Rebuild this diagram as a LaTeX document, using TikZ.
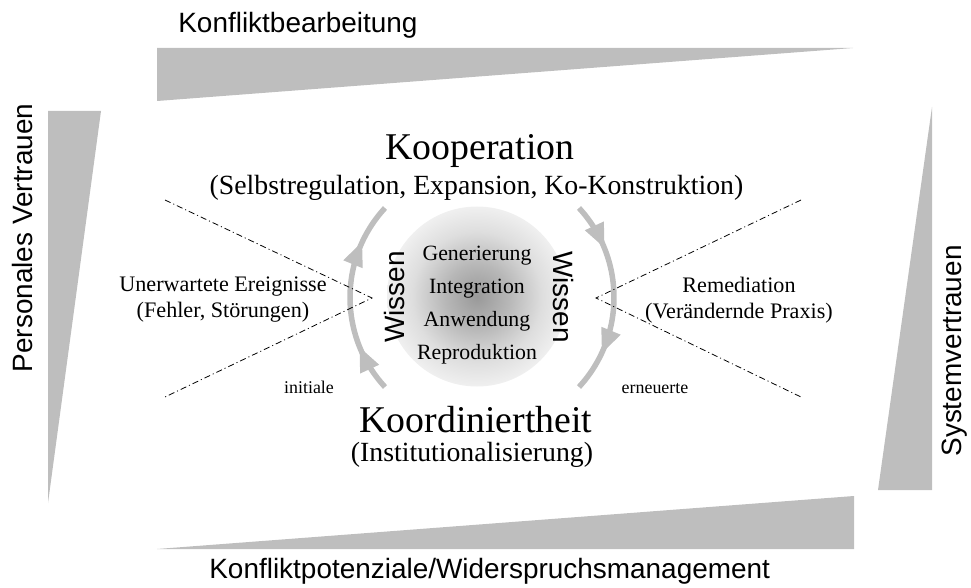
\documentclass[tikz,border=0pt]{standalone}
\usepackage{fontspec}
\setmainfont{Liberation Serif}
\newfontfamily\labelfont{Liberation Sans}
\usetikzlibrary{decorations.markings}
\definecolor{wedgegray}{RGB}{190,190,190}
\pgfdeclareradialshading{coreglow}{\pgfpoint{0bp}{0bp}}{color(0bp)=(black!40); color(9bp)=(black!28); color(18bp)=(black!13); color(25bp)=(black!6); color(50bp)=(black!6)}

\newcommand{\cyclehead}{\fill[wedgegray] (0.12,0) -- (-0.36,0.21) -- (-0.36,-0.21) -- cycle;}

\tikzset{
  wedge/.style={fill=wedgegray},
  framelabel/.style={font=\labelfont\fontsize{15.9}{19}\selectfont, inner sep=0pt},
  mainlabel/.style={font=\fontsize{21.5}{26}\selectfont, inner sep=0pt},
  sublabel/.style={font=\fontsize{15.8}{19}\selectfont, inner sep=0pt},
  sidetext/.style={font=\fontsize{12.6}{14.8}\selectfont, align=center, inner sep=0pt},
  knowtext/.style={font=\fontsize{12.4}{18.8}\selectfont, align=center, inner sep=0pt},
  smalltext/.style={font=\fontsize{10.2}{12}\selectfont, inner sep=0pt},
  ray/.style={dash pattern=on 3.5pt off 1.7pt on 0.6pt off 1.7pt, line width=0.45pt},
  cyclearc/.style={draw=wedgegray, line width=0.11cm, postaction={decorate},
    decoration={markings,
      mark=at position 0.21 with {\cyclehead},
      mark=at position 0.76 with {\cyclehead}}}
}

\begin{document}
\begin{tikzpicture}
      \useasboundingbox (0,0) rectangle (19.42,11.74);

      \fill[wedge] (3.14,10.78) -- (17.06,10.78) -- (3.14,9.72) -- cycle;
      \fill[wedge] (3.14,0.76) -- (17.08,0.76) -- (17.08,1.82) -- cycle;
      \fill[wedge] (0.96,9.52) -- (2.02,9.52) -- (0.96,1.68) -- cycle;
      \fill[wedge] (18.64,9.6) -- (18.64,1.94) -- (17.56,1.94) -- cycle;

      \node[framelabel, anchor=base west] (conflict) at (3.56,11.08) {Konfliktbearbeitung};
      \node[framelabel, anchor=base west] (potential) at (4.18,0.18) {Konfliktpotenziale/Widerspruchsmanagement};
      \node[framelabel, rotate=90] (personal) at (0.46,6.98) {Personales Vertrauen};
      \node[framelabel, rotate=90] (system) at (19.1,4.72) {Systemvertrauen};

      \node[circle, minimum size=3.6cm, shading=coreglow] (core) at (9.54,5.81) {};
      \node[knowtext] (knowledge) at (9.54,5.64) {Generierung\\Integration\\Anwendung\\Reproduktion};

      \coordinate (hub) at (9.64,5.79);
      \draw[cyclearc] ([shift={(222.7:2.64)}]hub) arc[start angle=222.7, end angle=137.3, radius=2.64];
      \draw[cyclearc] ([shift={(42.7:2.64)}]hub) arc[start angle=42.7, end angle=-42.7, radius=2.64];

      \node[framelabel, rotate=90] (wissenleft) at (7.9,5.8) {Wissen};
      \node[framelabel, rotate=-90] (wissenright) at (11.26,5.8) {Wissen};

      \node[mainlabel, anchor=base] (coop) at (9.6,8.54) {Kooperation};
      \node[sublabel, anchor=base] (coopsub) at (9.53,7.84) {(Selbstregulation, Expansion, Ko-Konstruktion)};
      \node[mainlabel, anchor=base] (coord) at (9.52,3.1) {Koordiniertheit};
      \node[sublabel, anchor=base] (coordsub) at (9.44,2.52) {(Institutionalisierung)};

      \node[smalltext, anchor=base] (initial) at (6.18,3.88) {initiale};
      \node[smalltext, anchor=base] (renewed) at (13.1,3.88) {erneuerte};

      \coordinate (lefttip) at (7.44,5.78);
      \coordinate (righttip) at (11.92,5.78);
      \draw[ray] (3.3,7.74) -- (lefttip) -- (3.3,3.8);
      \draw[ray] (16.02,7.74) -- (righttip) -- (16.02,3.8);

      \node[sidetext] (events) at (4.46,5.74) {Unerwartete Ereignisse\\(Fehler, Störungen)};
      \node[sidetext] (remedy) at (14.78,5.74) {Remediation\\(Verändernde Praxis)};
\end{tikzpicture}
\end{document}
